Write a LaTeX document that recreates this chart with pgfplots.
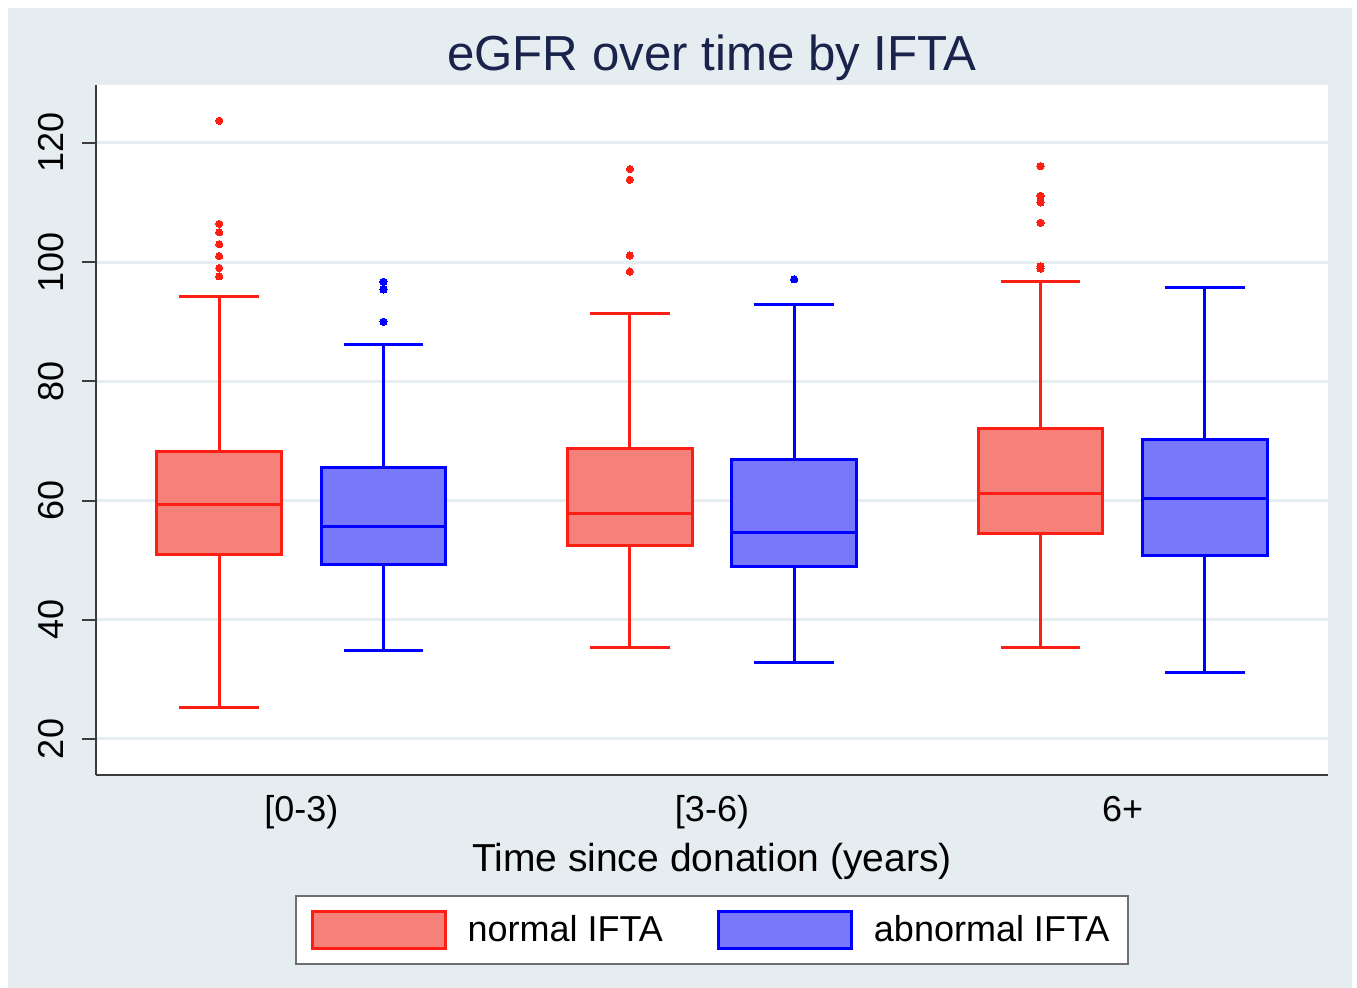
\documentclass[border=0pt]{standalone}
\usepackage{fontspec}
\setmainfont{Liberation Sans}
\usepackage{pgfplots}
\pgfplotsset{compat=1.18}
\usepgfplotslibrary{statistics}
\definecolor{bgcol}{RGB}{229,237,240}
\definecolor{gridcol}{RGB}{228,237,239}
\definecolor{titlecol}{RGB}{25,35,75}
\definecolor{redline}{RGB}{255,30,20}
\definecolor{redfill}{RGB}{246,128,122}
\definecolor{blueline}{RGB}{0,0,255}
\definecolor{bluefill}{RGB}{120,120,250}
\definecolor{axiscol}{RGB}{60,60,60}
\definecolor{legborder}{RGB}{110,110,110}
\begin{document}
\begin{tikzpicture}
\fill[white] (0,0) rectangle (678.5pt,494pt);
\fill[bgcol] (4pt,0) rectangle (676pt,490pt);
\begin{axis}[
  at={(48pt,106.5pt)}, anchor=south west,
  scale only axis, width=616pt, height=345pt,
  xmin=0.5, xmax=3.5, ymin=13.96, ymax=129.7,
  axis background/.style={fill=white},
  axis x line=bottom, axis y line=left,
  axis line style={-, draw=axiscol, line width=1pt},
  every outer x axis line/.append style={-},
  every outer y axis line/.append style={-},
  every inner x axis line/.append style={-},
  every inner y axis line/.append style={-},
  boxplot/draw direction=y,
  xtick={1,2,3}, xticklabels={{[0-3)},{[3-6)},{6+}},
  xtick style={draw=none},
  ytick={20,40,60,80,100,120},
  ytick style={draw=axiscol, line width=1pt},
  tick align=outside, major tick length=7pt,
  ymajorgrids, major grid style={draw=gridcol, line width=1.5pt},
  /pgf/number format/assume math mode=true,
  ticklabel style={font=\fontsize{18}{21}\selectfont, text=black},
  xticklabel style={anchor=center, yshift=-12pt, text height=13pt, text depth=4pt},
  yticklabel style={xshift=-9pt, rotate=90, anchor=south, inner sep=0pt},
  title={eGFR over time by IFTA},
  title style={font=\fontsize{24.6}{28}\selectfont, text=titlecol, at={(axis description cs:0.5,1)}, anchor=center, yshift=7.5pt},
  xlabel={Time since donation (years)},
  xlabel style={font=\fontsize{19.5}{23}\selectfont, at={(axis description cs:0.5,0)}, anchor=center, yshift=-43pt},
  legend columns=2,
  legend cell align=left,
  legend image code/.code={\draw[#1] (0pt,-9.25pt) rectangle (66.5pt,9.25pt); \path (75pt,0pt);},
  legend style={at={(axis description cs:0.5,0)}, anchor=center, yshift=-77.5pt,
    draw=legborder, line width=1pt, fill=white, font=\fontsize{18}{21}\selectfont,
    inner xsep=7.5pt, inner ysep=7pt,
    /tikz/every even column/.append style={column sep=25pt}},
]
% ---- normal IFTA (red) ----
\addplot[redline, line width=1.5pt, mark=*, mark size=1.8pt,
  mark options={fill=redline, draw=redline, line width=0pt},
  boxplot prepared={draw position=0.8, lower whisker=25.2, lower quartile=50.9,
    median=59.4, upper quartile=68.3, upper whisker=94.3,
    box extend=0.303, whisker extend=0.194,
    every box/.style={draw=redline, fill=redfill, line width=1.5pt}}, forget plot]
  table[row sep=\\, y index=0] {y\\123.7\\106.4\\105.0\\103.0\\101.0\\99.0\\97.6\\};
\addplot[redline, line width=1.5pt, mark=*, mark size=1.8pt,
  mark options={fill=redline, draw=redline, line width=0pt},
  boxplot prepared={draw position=1.8, lower whisker=35.4, lower quartile=52.5,
    median=57.9, upper quartile=68.7, upper whisker=91.3,
    box extend=0.303, whisker extend=0.194,
    every box/.style={draw=redline, fill=redfill, line width=1.5pt}}, forget plot]
  table[row sep=\\, y index=0] {y\\115.6\\113.8\\101.1\\98.4\\};
\addplot[redline, line width=1.5pt, mark=*, mark size=1.8pt,
  mark options={fill=redline, draw=redline, line width=0pt},
  boxplot prepared={draw position=2.8, lower whisker=35.4, lower quartile=54.4,
    median=61.1, upper quartile=72.0, upper whisker=96.8,
    box extend=0.303, whisker extend=0.194,
    every box/.style={draw=redline, fill=redfill, line width=1.5pt}}, forget plot]
  table[row sep=\\, y index=0] {y\\116.1\\111.1\\110.0\\106.6\\99.3\\98.9\\};
% ---- abnormal IFTA (blue) ----
\addplot[blueline, line width=1.5pt, mark=*, mark size=1.8pt,
  mark options={fill=blueline, draw=blueline, line width=0pt},
  boxplot prepared={draw position=1.2, lower whisker=34.8, lower quartile=49.2,
    median=55.6, upper quartile=65.5, upper whisker=86.1,
    box extend=0.303, whisker extend=0.194,
    every box/.style={draw=blueline, fill=bluefill, line width=1.5pt}}, forget plot]
  table[row sep=\\, y index=0] {y\\96.7\\95.4\\90.0\\};
\addplot[blueline, line width=1.5pt, mark=*, mark size=1.8pt,
  mark options={fill=blueline, draw=blueline, line width=0pt},
  boxplot prepared={draw position=2.2, lower whisker=32.8, lower quartile=48.9,
    median=54.7, upper quartile=66.8, upper whisker=92.8,
    box extend=0.303, whisker extend=0.194,
    every box/.style={draw=blueline, fill=bluefill, line width=1.5pt}}, forget plot]
  table[row sep=\\, y index=0] {y\\97.1\\};
\addplot[blueline, line width=1.5pt, mark=*, mark size=1.8pt,
  mark options={fill=blueline, draw=blueline, line width=0pt},
  boxplot prepared={draw position=3.2, lower whisker=31.1, lower quartile=50.7,
    median=60.3, upper quartile=70.3, upper whisker=95.8,
    box extend=0.303, whisker extend=0.194,
    every box/.style={draw=blueline, fill=bluefill, line width=1.5pt}}, forget plot]
  coordinates {};
\addlegendimage{draw=redline, fill=redfill, line width=1.5pt}
\addlegendentry{normal IFTA}
\addlegendimage{draw=blueline, fill=bluefill, line width=1.5pt}
\addlegendentry{abnormal IFTA}
\end{axis}
\end{tikzpicture}
\end{document}
